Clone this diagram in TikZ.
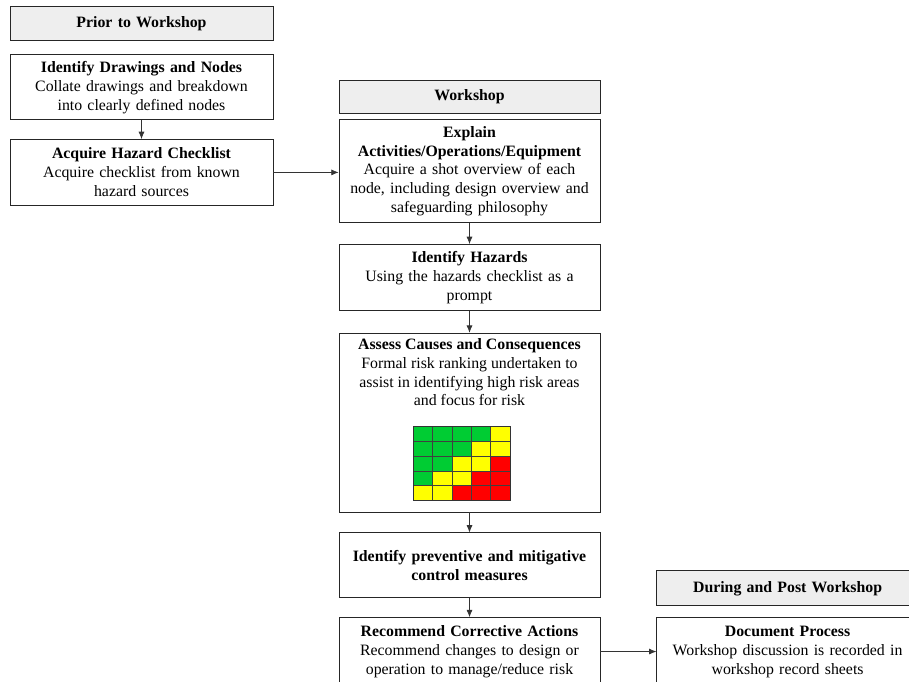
\documentclass[tikz,border=0pt]{standalone}
\usepackage{fontspec}
\setmainfont{Liberation Serif}
\usetikzlibrary{positioning, arrows.meta}

\definecolor{headGray}{RGB}{238,238,238}
\definecolor{riskGreen}{RGB}{0,204,51}
\definecolor{riskYellow}{RGB}{255,255,0}
\definecolor{riskRed}{RGB}{255,0,0}

\begin{document}
\begin{tikzpicture}[x=0.03cm, y=-0.03cm, node distance=6mm, >={Latex[length=2.2mm, width=1.8mm]},
    box/.style={draw=black!85, line width=0.6pt, align=center, inner sep=2pt,
        font=\fontsize{13.5}{16.2}\selectfont},
    header/.style={fill=headGray, font=\fontsize{13.5}{16.2}\selectfont\bfseries},
    leftBox/.style={box, text width=7.75cm, minimum width=7.89cm},
    midBox/.style={box, text width=7.69cm, minimum width=7.83cm},
    rightBox/.style={box, text width=7.71cm, minimum width=7.85cm},
    link/.style={->, draw=black!80, line width=0.6pt}]
    \useasboundingbox (0,0) rectangle (909,681);

    % column headers
    \node[leftBox, header, minimum height=1.02cm, text depth=2pt] (priorHeader) at (141.5,23) {Prior to Workshop};
    \node[midBox, header, minimum height=0.99cm, text depth=2pt] (workshopHeader) at (469.5,96.5) {Workshop};

    % prior to workshop
    \node[leftBox, minimum height=1.95cm, below=0.42cm of priorHeader] (identifyDrawings)
        {\textbf{Identify Drawings and Nodes}\\ Collate drawings and breakdown\\ into clearly defined nodes};
    \node[leftBox, minimum height=1.98cm, below=0.57cm of identifyDrawings] (acquireChecklist)
        {\textbf{Acquire Hazard Checklist}\\ Acquire checklist from known\\ hazard sources};

    % workshop
    \node[midBox, minimum height=3.09cm, below=0.18cm of workshopHeader] (explainActivities)
        {\textbf{Explain}\\ \textbf{Activities/Operations/Equipment}\\ Acquire a shot overview of each\\
         node, including design overview and\\ safeguarding philosophy};
    \node[midBox, minimum height=1.98cm, below=0.63cm of explainActivities] (identifyHazards)
        {\textbf{Identify Hazards}\\ Using the hazards checklist as a\\ prompt};
    \node[midBox, minimum height=5.37cm, below=0.66cm of identifyHazards] (assessCauses) {};
    \node[align=center, font=\fontsize{13.5}{16.2}\selectfont, below=1pt of assessCauses.north] (assessText)
        {\textbf{Assess Causes and Consequences}\\ Formal risk ranking undertaken to\\
         assist in identifying high risk areas\\ and focus for risk};
    \node[midBox, minimum height=1.95cm, below=0.6cm of assessCauses] (controlMeasures)
        {\textbf{Identify preventive and mitigative}\\ \textbf{control measures}};
    \node[midBox, minimum height=2.04cm, below=0.57cm of controlMeasures] (correctiveActions)
        {\textbf{Recommend Corrective Actions}\\ Recommend changes to design or\\
         operation to manage/reduce risk};

    % during and post workshop
    \node[rightBox, minimum height=2.04cm, right=1.68cm of correctiveActions] (documentProcess)
        {\textbf{Document Process}\\ Workshop discussion is recorded in\\ workshop record sheets};
    \node[rightBox, header, minimum height=1.05cm, text depth=2pt, above=0.33cm of documentProcess] (duringHeader)
        {During and Post Workshop};

    % risk matrix
    \begin{scope}[shift={(assessCauses.south)}]
        \foreach \r in {0,...,4}
            \foreach \c in {0,...,4} {
                \ifnum\numexpr\c+\r\relax<4 \def\cellColor{riskGreen}\else
                    \ifnum\numexpr\c+\r\relax<6 \def\cellColor{riskYellow}\else\def\cellColor{riskRed}\fi
                \fi
                \fill[\cellColor] ({-56.5+19.4*\c},{-86+14.8*\r}) rectangle ++(19.4,14.8);
            }
        \foreach \i in {1,...,4} {
            \draw[black!75, line width=0.5pt] ({-56.5+19.4*\i},-86) -- ++(0,74);
            \draw[black!75, line width=0.5pt] (-56.5,{-86+14.8*\i}) -- ++(97,0);
        }
        \draw[black!80, line width=0.8pt] (-56.5,-86) rectangle (40.5,-12);
    \end{scope}

    % connectors
    \draw[link] (identifyDrawings) -- (acquireChecklist);
    \draw[link] (acquireChecklist.east) -- (acquireChecklist.east -| explainActivities.west);
    \draw[link] (explainActivities) -- (identifyHazards);
    \draw[link] (identifyHazards) -- (assessCauses);
    \draw[link] (assessCauses) -- (controlMeasures);
    \draw[link] (controlMeasures) -- (correctiveActions);
    \draw[link] (correctiveActions) -- (documentProcess);
\end{tikzpicture}
\end{document}
